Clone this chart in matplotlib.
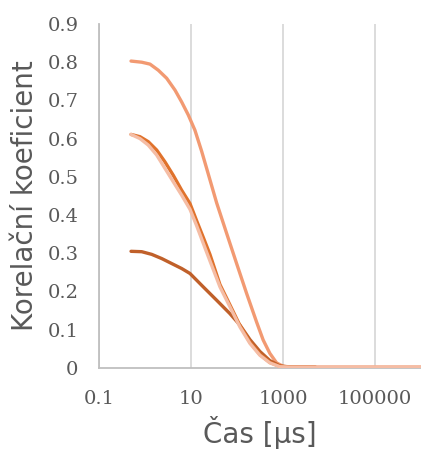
#This program draws the correlation coefficient decay over time

import matplotlib
matplotlib.use('Agg')
import matplotlib.pyplot as plt
from matplotlib.ticker import FixedLocator, NullLocator


#Series A (top curve)
time_a = [0.489, 0.836, 1.265, 1.919, 2.917, 4.426, 6.18, 8.61, 12.02, 16.83, 21.63, 35.65, 58.9, 97.1,
          160, 264, 367, 513, 719, 1000, 1648, 5000, 100000, 1000000]
corr_a = [0.803, 0.800, 0.795, 0.779, 0.758, 0.727, 0.696, 0.662, 0.622, 0.567, 0.522, 0.432, 0.352, 0.273,
          0.195, 0.120, 0.073, 0.038, 0.013, 0.004, 0.002, 0.002, 0.002, 0.002]

#Series B (dark orange)
time_b = [0.489, 0.767, 1.16, 1.77, 2.68, 4.06, 6.18, 9.38, 13.1, 18.2, 25.5, 42.1, 69.3, 114.6,
          189, 311, 513, 847, 1413, 5000]
corr_b = [0.611, 0.605, 0.592, 0.570, 0.539, 0.504, 0.465, 0.43, 0.385, 0.342, 0.297, 0.218, 0.165, 0.111,
          0.067, 0.035, 0.014, 0.004, 0.002, 0.002]

#Series C (light pink)
time_c = [0.489, 0.767, 1.16, 1.77, 2.68, 4.06, 6.18, 9.38, 13.1, 19.9, 25.5, 42.1, 69.3, 114.6,
          189, 311, 513, 847, 1413, 5000, 100000, 1000000]
corr_c = [0.611, 0.600, 0.583, 0.557, 0.522, 0.487, 0.452, 0.415, 0.372, 0.314, 0.280, 0.212, 0.160, 0.107,
          0.064, 0.033, 0.013, 0.003, 0.002, 0.002, 0.002, 0.002]

#Series D (brown, lowest)
time_d = [0.489, 0.836, 1.38, 2.28, 3.75, 6.18, 9.38, 18.2, 35.65, 69.3, 114.6, 189, 311, 513, 847, 1413, 5000]
corr_d = [0.305, 0.304, 0.297, 0.286, 0.273, 0.260, 0.247, 0.212, 0.177, 0.142, 0.112, 0.074, 0.043, 0.019,
          0.005, 0.002, 0.002]

#Tick labels
x_ticks = [0.1, 10, 1000, 100000]
x_labels = ['0.1', '10', '1000', '100000']
y_ticks = [0, 0.1, 0.2, 0.3, 0.4, 0.5, 0.6, 0.7, 0.8, 0.9]
y_labels = ['0', '0.1', '0.2', '0.3', '0.4', '0.5', '0.6', '0.7', '0.8', '0.9']


def drawChart():

    fig = plt.figure(figsize=(4.21, 4.53), dpi=100)
    ax = fig.add_axes([0.236, 0.188, 0.764, 0.759])

    #Plot curves
    lw = 2.4
    ax.plot(time_a, corr_a, color='#F29A72', lw=lw, solid_capstyle='round', solid_joinstyle='round', zorder=3)
    ax.plot(time_d, corr_d, color='#C0602A', lw=lw, solid_capstyle='round', solid_joinstyle='round', zorder=3)
    ax.plot(time_b, corr_b, color='#E0722C', lw=lw, solid_capstyle='round', solid_joinstyle='round', zorder=3)
    ax.plot(time_c, corr_c, color='#F5BDA5', lw=lw, solid_capstyle='round', solid_joinstyle='round', zorder=4)

    #Axes
    ax.set_xscale('log')
    ax.set_xlim(0.1, 1000000)
    ax.set_ylim(0, 0.9)
    ax.xaxis.set_major_locator(FixedLocator(x_ticks))
    ax.xaxis.set_minor_locator(NullLocator())
    ax.set_xticks(x_ticks)
    ax.set_xticklabels(x_labels)
    ax.set_yticks(y_ticks)
    ax.set_yticklabels(y_labels)

    for lab in ax.get_xticklabels() + ax.get_yticklabels():
        lab.set_fontfamily('DejaVu Serif')
        lab.set_fontsize(14)
        lab.set_color('#595959')

    ax.tick_params(axis='both', length=0)
    ax.tick_params(axis='x', pad=16)
    ax.tick_params(axis='y', pad=15)

    #Grid and spines
    ax.grid(True, axis='x', color='#D9D9D9', lw=1.3)
    ax.set_axisbelow(True)
    ax.spines['top'].set_visible(False)
    ax.spines['right'].set_visible(False)
    ax.spines['left'].set_color('#BFBFBF')
    ax.spines['bottom'].set_color('#BFBFBF')
    ax.spines['left'].set_linewidth(1.3)
    ax.spines['bottom'].set_linewidth(1.3)

    #Labels
    ax.set_xlabel('Čas [μs]', fontsize=20, color='#595959', family='DejaVu Sans', labelpad=6)
    ax.set_ylabel('Korelační koeficient', fontsize=20, color='#595959', family='DejaVu Sans', labelpad=6)

    fig.savefig('out.png', dpi=100)


#Main
def main():
    drawChart()


#Main call
if __name__ == "__main__":
    main()
